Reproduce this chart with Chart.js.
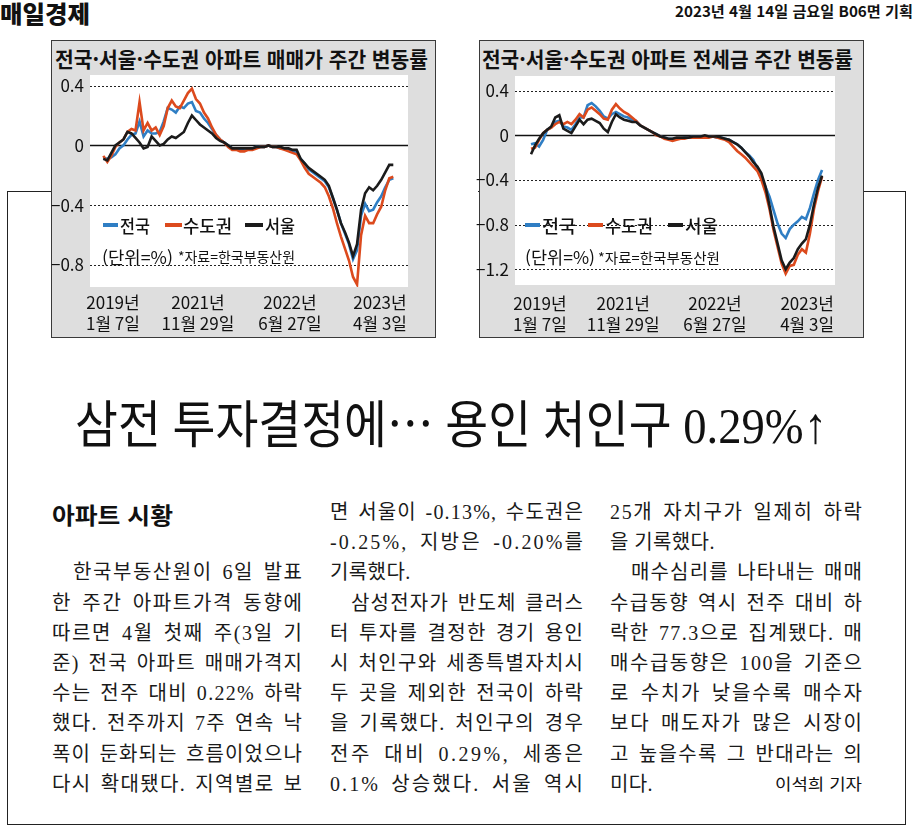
<!DOCTYPE html>
<html lang="ko">
<head>
<meta charset="utf-8">
<title>매일경제 - 아파트 시황</title>
<script src="https://cdn.jsdelivr.net/npm/chart.js"></script>
<style>
html,body{margin:0;padding:0;background:#fff;}
body{position:relative;width:915px;height:838px;overflow:hidden;font-family:"Noto Sans CJK KR","Noto Sans",sans-serif;color:#111;}
.a{position:absolute;white-space:pre;line-height:1;}
.fit{display:inline-block;white-space:pre;transform-origin:0 50%;}
.box{position:absolute;box-sizing:border-box;border:1px solid #3a3a3a;background:#dedede;}
.frame{position:absolute;left:7px;top:191px;width:899px;height:634px;box-sizing:border-box;border:1.5px solid #222;}
.dash{position:absolute;height:4px;}
.ln{position:absolute;height:30px;line-height:30px;white-space:pre;font-family:"Liberation Serif","Noto Sans CJK KR",serif;font-size:20px;color:#1a1a1a;}
.ln span{display:inline-block;white-space:pre;}
canvas{position:absolute;}
</style>
</head>
<body>
<script>
// ===== DATA =====
const seriesNames = ['전국', '수도권', '서울'];
const xTickLabels = [['2019년', '1월 7일'], ['2021년', '11월 29일'], ['2022년', '6월 27일'], ['2023년', '4월 3일']];
const saleYTicks = [0.4, 0, -0.4, -0.8];
const jeonseYTicks = [0.4, 0, -0.4, -0.8, -1.2];

// 매매가 주간 변동률 (%), weekly samples from 2019-01-07 to 2023-04-03
const saleNational = [-0.08,-0.09,-0.08,-0.06,-0.02,0.00,0.04,0.07,0.08,0.16,0.06,0.10,0.08,0.08,0.09,0.16,0.25,0.24,0.22,0.26,0.25,0.28,0.29,0.23,0.22,0.18,0.15,0.11,0.07,0.04,0.02,0.00,-0.02,-0.02,-0.03,-0.02,-0.02,-0.02,-0.01,-0.01,-0.01,0.00,-0.01,-0.01,-0.02,-0.02,-0.03,-0.04,-0.05,-0.09,-0.12,-0.16,-0.18,-0.20,-0.22,-0.24,-0.28,-0.35,-0.43,-0.52,-0.59,-0.66,-0.76,-0.70,-0.47,-0.39,-0.44,-0.43,-0.38,-0.34,-0.28,-0.23,-0.22];
const saleCapital  = [-0.07,-0.11,-0.07,-0.01,0.02,0.04,0.09,0.11,0.10,0.29,0.10,0.15,0.10,0.12,0.07,0.13,0.25,0.30,0.26,0.25,0.30,0.35,0.38,0.31,0.28,0.22,0.18,0.12,0.07,0.04,0.02,-0.01,-0.03,-0.03,-0.04,-0.04,-0.03,-0.03,-0.02,-0.01,-0.01,0.00,-0.01,-0.01,-0.02,-0.03,-0.04,-0.05,-0.06,-0.10,-0.15,-0.19,-0.21,-0.23,-0.25,-0.28,-0.34,-0.42,-0.52,-0.61,-0.69,-0.77,-0.88,-0.93,-0.60,-0.47,-0.52,-0.52,-0.46,-0.41,-0.30,-0.22,-0.21];
const saleSeoul    = [-0.09,-0.10,-0.05,0.00,0.02,0.04,0.09,0.08,0.05,0.02,-0.02,-0.01,0.06,0.03,0.00,0.01,0.04,0.06,0.05,0.07,0.09,0.15,0.20,0.17,0.14,0.12,0.10,0.08,0.05,0.03,0.02,0.00,-0.02,-0.02,-0.02,-0.02,-0.02,-0.02,-0.01,-0.01,-0.01,0.00,-0.01,-0.01,-0.01,-0.02,-0.02,-0.03,-0.03,-0.09,-0.12,-0.15,-0.17,-0.19,-0.21,-0.23,-0.27,-0.35,-0.43,-0.52,-0.58,-0.65,-0.74,-0.66,-0.43,-0.32,-0.28,-0.30,-0.27,-0.23,-0.18,-0.13,-0.13];

// 전세금 주간 변동률 (%)
const jeonseNational = [-0.08,-0.07,-0.10,-0.04,0.05,0.07,0.12,0.13,0.08,0.07,0.05,0.10,0.16,0.16,0.27,0.29,0.26,0.22,0.17,0.15,0.19,0.21,0.19,0.17,0.16,0.14,0.13,0.09,0.07,0.05,0.03,0.01,-0.01,-0.02,-0.03,-0.03,-0.03,-0.03,-0.02,-0.02,-0.01,-0.01,-0.01,-0.01,-0.01,-0.01,-0.02,-0.02,-0.03,-0.04,-0.06,-0.08,-0.11,-0.15,-0.18,-0.22,-0.30,-0.38,-0.46,-0.55,-0.67,-0.79,-0.88,-0.92,-0.84,-0.80,-0.77,-0.73,-0.75,-0.65,-0.52,-0.40,-0.31];
const jeonseCapital  = [-0.12,-0.11,-0.04,0.02,0.05,0.07,0.10,0.12,0.10,0.12,0.10,0.14,0.19,0.16,0.23,0.25,0.22,0.19,0.15,0.14,0.23,0.28,0.24,0.21,0.19,0.16,0.13,0.09,0.07,0.05,0.03,0.00,-0.01,-0.03,-0.04,-0.05,-0.04,-0.03,-0.03,-0.02,-0.02,-0.02,-0.02,-0.02,-0.02,-0.01,-0.02,-0.03,-0.04,-0.06,-0.10,-0.14,-0.17,-0.20,-0.24,-0.28,-0.32,-0.40,-0.51,-0.66,-0.85,-1.00,-1.15,-1.24,-1.17,-1.16,-1.07,-1.02,-1.05,-0.88,-0.66,-0.50,-0.37];
const jeonseSeoul    = [-0.17,-0.09,-0.03,0.02,0.05,0.08,0.16,0.18,0.06,0.04,0.02,0.08,0.14,0.10,0.14,0.15,0.13,0.11,0.06,0.03,0.12,0.19,0.16,0.14,0.13,0.12,0.12,0.09,0.07,0.05,0.03,0.01,-0.01,-0.02,-0.03,-0.03,-0.02,-0.02,-0.02,-0.02,-0.01,-0.01,-0.01,0.00,-0.01,-0.01,-0.01,-0.02,-0.03,-0.04,-0.06,-0.08,-0.11,-0.15,-0.19,-0.24,-0.28,-0.34,-0.46,-0.63,-0.82,-0.97,-1.12,-1.20,-1.14,-1.10,-1.02,-0.97,-0.93,-0.80,-0.62,-0.47,-0.36];

// sample-index positions of the four date labels
const saleXTickAt = [2.4, 23.5, 46.35, 68.7];
const jeonseXTickAt = [2.2, 22.8, 45.5, 68.3];
</script>

<div class="a" style="left:0;top:1px;font-size:24px;font-weight:900;"><span class="fit" data-w="90">매일경제</span></div>
<div class="a" style="left:675px;top:3px;font-size:15px;font-weight:700;"><span class="fit" data-w="238">2023년 4월 14일 금요일 B06면 기획</span></div>

<div class="frame"></div>
<div style="position:absolute;left:436px;top:186px;width:42px;height:12px;background:#fff"></div>

<div class="box" style="left:51px;top:40px;width:385px;height:298px;"></div>
<div class="box" style="left:479px;top:40px;width:385px;height:298px;"></div>

<div class="a" style="left:55px;top:48px;font-size:21px;font-weight:700;"><span class="fit" data-w="373">전국·서울·수도권 아파트 매매가 주간 변동률</span></div>
<div class="a" style="left:482px;top:48px;font-size:21px;font-weight:700;"><span class="fit" data-w="371">전국·서울·수도권 아파트 전세금 주간 변동률</span></div>

<canvas id="c1" width="394" height="268" style="left:40px;top:70px;"></canvas>
<canvas id="c2" width="394" height="268" style="left:468px;top:70px;"></canvas>

<!-- legend chart 1 -->
<div class="dash" style="left:103px;top:223px;width:15px;background:#2f7ec4"></div>
<div class="a" style="left:120px;top:216px;font-size:18px;font-weight:500;"><span class="fit" data-w="30">전국</span></div>
<div class="dash" style="left:165px;top:223px;width:17px;background:#dc4a1d"></div>
<div class="a" style="left:183px;top:216px;font-size:18px;font-weight:500;"><span class="fit" data-w="49">수도권</span></div>
<div class="dash" style="left:245px;top:223px;width:18px;background:#1b1b1b"></div>
<div class="a" style="left:265px;top:216px;font-size:18px;font-weight:500;"><span class="fit" data-w="30">서울</span></div>
<div class="a" style="left:102px;top:248px;font-size:17px;"><span class="fit" data-w="71">(단위=%)</span></div>
<div class="a" style="left:178px;top:249px;font-size:14px;"><span class="fit" data-w="117">*자료=한국부동산원</span></div>

<!-- legend chart 2 -->
<div class="dash" style="left:525px;top:223px;width:15px;background:#2f7ec4"></div>
<div class="a" style="left:542px;top:216px;font-size:18px;font-weight:500;"><span class="fit" data-w="34">전국</span></div>
<div class="dash" style="left:588px;top:223px;width:15px;background:#dc4a1d"></div>
<div class="a" style="left:605px;top:216px;font-size:18px;font-weight:500;"><span class="fit" data-w="48">수도권</span></div>
<div class="dash" style="left:668px;top:223px;width:15px;background:#1b1b1b"></div>
<div class="a" style="left:685px;top:216px;font-size:18px;font-weight:500;"><span class="fit" data-w="33">서울</span></div>
<div class="a" style="left:525px;top:248px;font-size:17px;"><span class="fit" data-w="70">(단위=%)</span></div>
<div class="a" style="left:598px;top:250px;font-size:14px;"><span class="fit" data-w="122">*자료=한국부동산원</span></div>

<!-- headline -->
<div class="a" style="left:75px;top:396px;font-size:51px;font-family:'Liberation Serif','Noto Sans CJK KR',serif;color:#111;"><span class="fit" data-w="752">삼전 투자결정에<span style="font-family:'Noto Sans CJK JP'">…</span> 용인 처인구 0.29%↑</span></div>

<!-- article -->
<div class="a" style="left:52px;top:503px;font-size:23px;font-weight:700;"><span class="fit" data-w="121">아파트 시황</span></div>
<div id="article"></div>
<div class="a" style="left:775px;top:775px;font-size:16px;font-weight:400;"><span class="fit" data-w="87">이석희 기자</span></div>

<script>
// ===== ARTICLE TEXT =====
const columns = [
  {x: 52, w: 250, rows: [
    [3, '한국부동산원이 6일 발표', 'i'],
    [4, '한 주간 아파트가격 동향에'],
    [5, '따르면 4월 첫째 주(3일 기'],
    [6, '준) 전국 아파트 매매가격지'],
    [7, '수는 전주 대비 0.22% 하락'],
    [8, '했다. 전주까지 7주 연속 낙'],
    [9, '폭이 둔화되는 흐름이었으나'],
    [10, '다시 확대됐다. 지역별로 보']
  ]},
  {x: 330, w: 253, rows: [
    [1, '면 서울이 -0.13%, 수도권은'],
    [2, '-0.25%, 지방은 -0.20%를'],
    [3, '기록했다.', 'l'],
    [4, '삼성전자가 반도체 클러스', 'i'],
    [5, '터 투자를 결정한 경기 용인'],
    [6, '시 처인구와 세종특별자치시'],
    [7, '두 곳을 제외한 전국이 하락'],
    [8, '을 기록했다. 처인구의 경우'],
    [9, '전주 대비 0.29%, 세종은'],
    [10, '0.1% 상승했다. 서울 역시']
  ]},
  {x: 610, w: 252, rows: [
    [1, '25개 자치구가 일제히 하락'],
    [2, '을 기록했다.', 'l'],
    [3, '매수심리를 나타내는 매매', 'i'],
    [4, '수급동향 역시 전주 대비 하'],
    [5, '락한 77.3으로 집계됐다. 매'],
    [6, '매수급동향은 100을 기준으'],
    [7, '로 수치가 낮을수록 매수자'],
    [8, '보다 매도자가 많은 시장이'],
    [9, '고 높을수록 그 반대라는 의'],
    [10, '미다.', 'l']
  ]}
];
const art = document.getElementById('article');
columns.forEach(col => {
  col.rows.forEach(([r, text, mode]) => {
    const d = document.createElement('div');
    d.className = 'ln';
    const indent = mode === 'i' ? 21 : 0;
    d.style.left = (col.x + indent) + 'px';
    d.style.top = (512 + 30.2 * (r - 1) - 15) + 'px';
    const s = document.createElement('span');
    s.textContent = text;
    d.appendChild(s);
    if (mode !== 'l') d.dataset.w = col.w - indent;
    art.appendChild(d);
  });
});

function layoutText() {
  document.querySelectorAll('.fit').forEach(el => {
    el.style.transform = 'none';
    const w = el.getBoundingClientRect().width;
    const t = +el.dataset.w;
    if (w > 0) el.style.transform = 'scaleX(' + (t / w) + ')';
  });
  document.querySelectorAll('.ln').forEach(el => {
    const s = el.firstElementChild;
    s.style.letterSpacing = '0px';
    s.style.wordSpacing = '0px';
    if (!el.dataset.w) { s.style.letterSpacing = '0.4px'; return; }
    const W = +el.dataset.w;
    const w = s.getBoundingClientRect().width;
    const chars = [...s.textContent];
    const n = chars.length;
    const sp = chars.filter(c => c === ' ').length;
    const E = W - w;
    if (E >= 0) {
      const ls = E / (n - 1 + 2 * sp);
      s.style.letterSpacing = ls + 'px';
      s.style.wordSpacing = (2 * ls) + 'px';
    } else {
      s.style.letterSpacing = (E / (n - 1)) + 'px';
    }
  });
}
layoutText();
if (document.fonts && document.fonts.ready) document.fonts.ready.then(layoutText);

// ===== CHARTS =====
Chart.defaults.font.family = '"Noto Sans CJK KR", "Noto Sans", sans-serif';
Chart.defaults.color = '#111';
const colors = ['#2f7ec4', '#dc4a1d', '#1b1b1b'];

const plotBg = {
  id: 'plotBg',
  beforeDraw(chart) {
    const {ctx, chartArea: a} = chart;
    const y = chart.scales.y;
    ctx.save();
    ctx.fillStyle = '#fff';
    ctx.fillRect(a.left, a.top, a.right - a.left, a.bottom - a.top);
    y.ticks.forEach(t => {
      const py = Math.round(y.getPixelForValue(t.value)) + 0.5;
      ctx.beginPath();
      if (t.value === 0) { ctx.setLineDash([]); ctx.lineWidth = 1.3; ctx.strokeStyle = '#111'; }
      else { ctx.setLineDash([2, 2]); ctx.lineWidth = 1; ctx.strokeStyle = '#222'; }
      ctx.moveTo(a.left, py);
      ctx.lineTo(a.right, py);
      ctx.stroke();
    });
    ctx.restore();
  }
};

function fmt(v) {
  if (v === 0) return '0';
  return (v < 0 ? '−' : '') + Math.abs(v).toFixed(1);
}

function makeChart(id, series, cfg) {
  const datasets = series.map((vals, i) => ({
    label: seriesNames[i],
    data: vals.map((v, k) => ({x: k, y: v})),
    borderColor: colors[i],
    borderWidth: 2.6,
    pointRadius: 0,
    tension: 0,
    fill: false,
    order: 2 - i
  }));
  return new Chart(document.getElementById(id), {
    type: 'line',
    data: {datasets},
    options: {
      responsive: false,
      animation: false,
      events: [],
      layout: {padding: {top: cfg.padTop, right: cfg.padRight, left: 0, bottom: 0}},
      plugins: {legend: {display: false}, tooltip: {enabled: false}},
      scales: {
        x: {
          type: 'linear', min: cfg.xMin, max: cfg.xMax,
          grid: {display: false, drawTicks: false}, border: {display: false},
          afterBuildTicks: s => { s.ticks = cfg.xTickAt.map(v => ({value: v})); },
          afterFit: s => { s.height = cfg.xAxisH; s.paddingLeft = 0; s.paddingRight = 0; },
          ticks: {
            autoSkip: false, maxRotation: 0, minRotation: 0, padding: cfg.xPad, color: '#111',
            font: {size: 17, lineHeight: 1.18},
            callback: (v, i) => xTickLabels[i]
          }
        },
        y: {
          type: 'linear', min: cfg.yMin, max: cfg.yMax,
          grid: {display: false, drawTicks: false}, border: {display: false},
          afterBuildTicks: s => { s.ticks = cfg.yTicks.map(v => ({value: v})); },
          afterFit: s => { s.width = cfg.yAxisW; s.paddingTop = 0; s.paddingBottom = 0; },
          ticks: {padding: 6, color: '#111', font: {size: 17}, callback: v => fmt(v)}
        }
      }
    },
    plugins: [plotBg]
  });
}

makeChart('c1', [saleNational, saleCapital, saleSeoul], {
  padTop: 5, padRight: 26, yAxisW: 50, xAxisH: 51, xPad: 6,
  yMin: -0.947, yMax: 0.471, yTicks: saleYTicks,
  xMin: -3.3, xMax: 75.65, xTickAt: saleXTickAt
});
makeChart('c2', [jeonseNational, jeonseCapital, jeonseSeoul], {
  padTop: 6, padRight: 27, yAxisW: 47, xAxisH: 53, xPad: 9,
  yMin: -1.341, yMax: 0.532, yTicks: jeonseYTicks,
  xMin: -3.96, xMax: 75.2, xTickAt: jeonseXTickAt
});
</script>
</body>
</html>
